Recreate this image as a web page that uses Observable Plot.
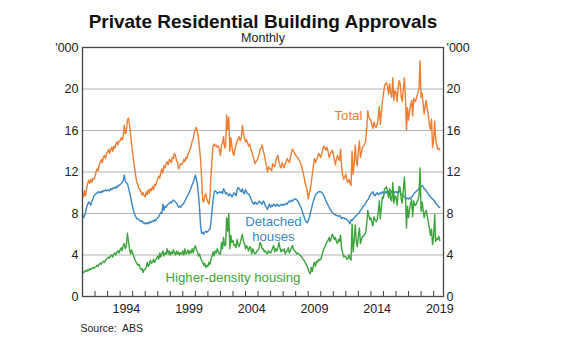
<!DOCTYPE html>
<html>
<head>
<meta charset="utf-8">
<style>
  html, body { margin: 0; padding: 0; background: #ffffff; }
  #chart svg { display: block; }
</style>
<script src="https://cdn.jsdelivr.net/npm/d3@7"></script>
<script src="https://cdn.jsdelivr.net/npm/@observablehq/plot@0.6"></script>
</head>
<body>
<div id="chart"></div>
<script>
// ---- Text ----
const title = "Private Residential Building Approvals";
const subtitle = "Monthly";
const sourceNote = "Source:  ABS";

// ---- Data: monthly, Jan 1991 to Jul 2019, '000 dwellings ----
const firstYear = 1991;
const total = [
  10.0, 9.6, 10.2, 9.7, 10.4, 10.9, 11.2, 10.9, 11.3, 11.0, 11.4, 11.3,
  11.6, 12.0, 12.3, 12.1, 12.7, 12.9, 13.2, 12.9, 13.4, 13.6, 13.3, 13.8,
  13.9, 14.2, 13.8, 14.1, 14.4, 14.0, 14.5, 14.3, 14.7, 14.9, 14.6, 15.0,
  15.0, 15.3, 15.1, 15.4, 16.5, 15.7, 15.9, 17.0, 17.2, 16.6, 15.6, 14.7,
  13.9, 13.0, 12.3, 11.6, 11.0, 10.8, 10.4, 10.3, 10.1, 9.8, 10.0, 9.7,
  9.6, 10.1, 9.8, 10.3, 10.0, 10.4, 10.2, 10.6, 10.3, 10.8, 10.7, 11.1,
  11.3, 11.6, 11.4, 12.0, 12.3, 11.9, 12.6, 12.4, 12.8, 13.0, 12.7, 13.2,
  13.1, 12.9, 13.4, 13.3, 13.8, 13.6, 13.1, 12.9, 12.3, 12.5, 12.8, 12.7,
  12.9, 13.2, 13.0, 13.4, 13.3, 13.7, 13.9, 14.2, 14.5, 15.0, 15.2, 15.8,
  16.1, 16.3, 15.8, 15.3, 14.3, 13.2, 11.4, 9.3, 9.1, 9.7, 9.9, 9.4,
  9.1, 8.9, 9.6, 11.6, 13.2, 14.5, 14.7, 14.5, 14.6, 14.4, 14.5, 14.2,
  13.6, 14.6, 14.8, 15.4, 14.3, 14.5, 17.5, 16.1, 17.3, 14.0, 15.3, 14.5,
  13.8, 13.6, 14.3, 14.6, 15.0, 15.2, 15.4, 15.0, 15.3, 16.5, 15.8, 15.3,
  14.9, 15.1, 14.8, 14.5, 14.7, 14.2, 14.0, 13.6, 13.2, 12.8, 13.0, 13.1,
  13.4, 13.7, 14.2, 14.3, 14.6, 14.0, 13.7, 13.1, 12.6, 12.0, 12.5, 12.3,
  12.3, 12.1, 12.8, 12.6, 12.5, 13.1, 13.4, 13.6, 13.0, 12.6, 12.4, 12.9,
  12.6, 12.4, 12.8, 13.0, 13.3, 13.1, 12.9, 13.4, 13.9, 14.2, 14.0, 13.8,
  13.6, 13.5, 13.4, 13.2, 13.0, 12.8, 12.4, 12.0, 11.5, 11.0, 10.6, 10.3,
  9.4, 9.9, 10.3, 11.0, 11.8, 12.6, 13.3, 12.9, 13.2, 13.4, 13.8, 13.6,
  13.4, 13.8, 14.2, 14.5, 14.3, 14.1, 14.4, 14.0, 13.4, 13.7, 13.9, 14.1,
  13.7, 13.2, 12.7, 13.2, 13.6, 13.3, 13.1, 14.2, 12.5, 11.7, 11.3, 11.5,
  11.8, 11.2, 11.0, 11.3, 10.9, 10.7, 14.0, 11.8, 12.8, 14.6, 13.1, 12.6,
  14.1, 15.0, 13.4, 13.9, 14.4, 14.5, 14.7, 15.0, 16.2, 17.9, 17.3, 17.1,
  17.0, 16.5, 16.2, 16.8, 16.4, 16.3, 16.6, 17.2, 18.3, 16.6, 17.8, 18.8,
  19.5, 20.3, 20.5, 20.6, 20.2, 19.5, 20.5, 19.6, 19.2, 21.1, 18.9, 19.8,
  19.7, 18.8, 20.0, 20.8, 20.5, 19.3, 18.8, 19.9, 21.1, 19.3, 16.0, 18.2,
  17.0, 17.9, 18.4, 18.9, 17.4, 19.1, 18.8, 18.9, 19.3, 19.6, 20.1, 22.7,
  19.2, 19.6, 18.6, 17.6, 18.4, 18.9, 18.0, 17.5, 16.5, 16.1, 17.1, 14.4,
  15.0, 16.9, 15.2, 14.6, 14.2, 14.3, 14.1
];
const detached = [
  7.9, 7.6, 7.8, 8.1, 8.6, 8.9, 9.1, 9.0, 8.8, 9.2, 9.4, 9.7,
  9.8, 9.9, 10.0, 10.1, 10.0, 10.1, 10.0, 10.2, 10.1, 10.2, 10.3, 10.2,
  10.2, 10.3, 10.2, 10.4, 10.3, 10.4, 10.5, 10.4, 10.6, 10.5, 10.7, 10.7,
  10.8, 10.9, 11.0, 11.2, 11.7, 11.1, 11.0, 10.9, 10.5, 10.1, 9.6, 9.1,
  8.6, 8.2, 7.9, 7.7, 7.5, 7.5, 7.4, 7.3, 7.2, 7.3, 7.1, 7.0,
  7.1, 7.0, 7.1, 7.0, 7.2, 7.1, 7.2, 7.3, 7.2, 7.4, 7.3, 7.5,
  7.6, 7.7, 7.9, 8.1, 8.0, 8.9, 8.3, 8.7, 8.6, 8.8, 8.9, 9.0,
  9.1, 9.0, 9.2, 9.3, 9.2, 9.1, 9.0, 8.8, 8.6, 8.7, 8.6, 8.8,
  8.9, 9.0, 9.2, 9.4, 9.6, 9.8, 10.0, 10.2, 10.5, 10.8, 11.0, 11.3,
  11.7, 11.3, 10.8, 9.8, 8.6, 6.8, 6.1, 6.2, 6.0, 6.2, 6.3, 6.2,
  6.3, 6.4, 6.5, 7.2, 8.3, 9.3, 10.0, 10.2, 10.1, 9.9, 10.0, 10.1,
  10.0, 10.1, 9.9, 10.4, 10.2, 9.9, 10.0, 9.8, 9.7, 9.9, 9.8, 9.6,
  9.8, 10.0, 9.9, 9.7, 10.3, 10.5, 10.4, 10.2, 10.1, 10.4, 10.0, 9.9,
  10.3, 10.1, 9.9, 9.9, 9.7, 9.5, 9.2, 9.0, 8.9, 9.1, 9.0, 8.9,
  9.0, 9.2, 9.1, 9.0, 8.9, 9.2, 9.1, 8.7, 8.6, 8.4, 8.7, 8.9,
  8.6, 8.8, 8.7, 8.9, 8.8, 8.7, 8.9, 8.8, 8.7, 8.8, 8.9, 8.8,
  8.9, 8.8, 8.9, 9.0, 8.9, 9.1, 9.2, 9.1, 9.3, 9.2, 9.3, 9.4,
  9.4, 9.3, 9.2, 9.0, 8.8, 8.6, 8.3, 8.0, 7.7, 7.4, 7.2, 7.1,
  7.3, 7.6, 8.0, 8.4, 8.8, 9.2, 9.5, 9.8, 9.9, 10.0, 10.1, 10.1,
  10.1, 10.0, 9.9, 9.7, 9.5, 9.2, 9.0, 8.8, 8.6, 8.4, 8.3, 8.1,
  8.0, 7.9, 7.9, 7.8, 7.8, 7.7, 7.8, 7.7, 7.5, 7.6, 7.6, 7.5,
  7.5, 7.4, 7.3, 7.2, 7.0, 7.4, 7.3, 7.5, 7.6, 7.7, 7.8, 7.9,
  8.0, 8.1, 8.3, 8.4, 8.6, 8.7, 8.8, 9.0, 9.2, 9.3, 9.5, 9.7,
  9.9, 10.0, 10.1, 9.8, 9.7, 9.9, 10.0, 9.8, 9.9, 10.0, 9.9, 10.1,
  10.0, 9.9, 10.1, 10.0, 10.2, 10.0, 10.1, 10.2, 10.0, 10.1, 9.9, 10.1,
  10.1, 10.0, 10.1, 10.2, 10.0, 9.9, 9.8, 9.7, 9.6, 9.5, 9.4, 9.5,
  9.4, 9.5, 9.4, 9.6, 9.7, 9.9, 10.0, 10.1, 10.2, 10.3, 10.4, 10.5,
  10.6, 10.7, 10.6, 10.4, 10.3, 10.2, 10.0, 9.9, 9.7, 9.6, 9.5, 9.4,
  9.3, 9.2, 9.0, 8.9, 8.8, 8.6, 8.6
];
const higherDensity = [
  2.4, 2.3, 2.4, 2.5, 2.4, 2.6, 2.5, 2.7, 2.6, 2.7, 2.8, 2.7,
  2.8, 2.9, 3.0, 2.9, 3.1, 3.2, 3.1, 3.3, 3.4, 3.3, 3.5, 3.6,
  3.7, 3.8, 3.7, 3.9, 4.0, 3.8, 4.1, 4.2, 4.0, 4.3, 4.4, 4.2,
  4.5, 4.7, 4.4, 4.9, 5.1, 4.6, 4.9, 6.1, 5.3, 4.6, 4.1, 4.5,
  4.2, 3.9, 3.6, 3.4, 3.2, 3.0, 3.1, 2.8, 2.6, 2.7, 2.3, 2.6,
  2.6, 2.8, 3.3, 2.9, 3.1, 3.5, 3.2, 3.3, 3.6, 3.3, 3.5, 3.7,
  3.9, 3.6, 4.2, 3.8, 4.1, 4.4, 3.9, 4.2, 4.1, 4.6, 4.1, 4.4,
  4.0, 4.3, 4.1, 4.5, 4.2, 4.0, 4.4, 4.1, 4.3, 4.0, 4.2, 4.1,
  4.4, 4.0, 4.6, 4.1, 4.2, 4.5, 4.1, 4.4, 4.2, 4.6, 4.2, 4.6,
  4.9, 4.5, 4.3, 3.9, 4.1, 3.7, 3.5, 3.3, 3.0, 3.2, 2.8, 3.0,
  2.9, 3.3, 3.1, 3.6, 3.9, 4.3, 3.9, 4.4, 4.2, 4.6, 4.3, 4.1,
  4.1, 5.2, 4.6, 5.7, 4.9, 5.0, 7.6, 6.3, 8.0, 4.6, 5.9, 5.2,
  5.4, 4.9, 5.0, 4.7, 5.5, 5.0, 4.8, 5.2, 5.6, 6.0, 5.3, 5.1,
  4.6, 4.9, 4.7, 4.4, 4.8, 4.7, 4.1, 4.6, 4.3, 4.1, 4.2, 4.4,
  4.5, 4.7, 5.2, 5.0, 4.6, 4.6, 4.3, 4.4, 4.2, 4.1, 4.4, 4.3,
  4.2, 4.4, 4.7, 4.9, 4.3, 4.6, 4.4, 4.7, 5.2, 4.7, 4.3, 4.5,
  4.4, 4.6, 4.1, 4.3, 4.4, 4.7, 4.2, 4.4, 4.7, 4.9, 4.5, 4.4,
  4.3, 4.1, 4.2, 4.1, 4.0, 3.9, 3.8, 3.6, 3.5, 3.3, 3.1, 2.9,
  2.6, 2.3, 2.2, 2.8, 2.4, 3.0, 3.3, 2.9, 3.4, 3.3, 3.6, 3.5,
  3.6, 3.9, 4.3, 4.6, 4.8, 5.0, 5.3, 5.4, 5.7, 5.3, 5.6, 6.0,
  5.8, 5.5, 5.7, 5.3, 5.1, 5.5, 5.3, 5.9, 4.6, 4.2, 3.8, 3.9,
  3.8, 3.6, 3.6, 4.0, 3.7, 3.5, 7.0, 4.3, 5.4, 6.9, 5.3, 4.8,
  5.9, 6.6, 5.1, 5.5, 5.8, 5.8, 6.0, 6.1, 7.0, 8.3, 7.8, 7.4,
  7.6, 7.1, 6.8, 7.7, 7.4, 7.2, 7.4, 8.1, 9.2, 7.5, 8.6, 9.6,
  9.5, 10.4, 10.4, 10.6, 10.0, 9.5, 10.4, 9.4, 9.2, 11.0, 9.0, 9.7,
  9.6, 8.8, 9.9, 10.6, 10.5, 9.4, 9.0, 10.2, 11.5, 9.8, 6.6, 8.7,
  7.6, 8.4, 9.0, 9.3, 7.7, 9.2, 8.8, 8.8, 9.1, 9.3, 9.7, 12.4,
  8.2, 9.1, 8.4, 7.6, 8.1, 8.3, 7.7, 7.2, 6.5, 5.9, 6.5, 5.0,
  5.8, 7.9, 5.3, 5.6, 5.5, 5.8, 5.4
];

// ---- Axis ticks ----
const yTicks = [0, 4, 8, 12, 16, 20, 24];
const yTickLabels = ["0", "4", "8", "12", "16", "20", "'000"];
const gridValues = [4, 8, 12, 16, 20];
const labelYears = [1994, 1999, 2004, 2009, 2014, 2019];
const tickYears = [1992, 1993, 1994, 1995, 1996, 1997, 1998, 1999, 2000, 2001,
  2002, 2003, 2004, 2005, 2006, 2007, 2008, 2009, 2010, 2011, 2012, 2013,
  2014, 2015, 2016, 2017, 2018, 2019];
const xDomainYears = [[1991, 0, 1], [2019, 9, 16]];

// ---- Series labels (annotation anchors: year, month, value) ----
const seriesLabels = [
  {key: "total", text: "Total", year: 2012, month: 2, day: 16, value: 17.45},
  {key: "detached", text: "Detached\nhouses", year: 2006, month: 2, day: 24, value: 6.5},
  {key: "higher", text: "Higher-density housing", year: 2003, month: 0, day: 1, value: 1.83}
];

const colors = {total: "#EE7E32", detached: "#3A87C9", higher: "#3BA53B"};
const textColor = "#222222";

// ---- Build table ----
const utc = (y, m, d = 1) => new Date(Date.UTC(y, m, d));
const rows = total.map((t, i) => ({
  date: utc(firstYear, i, 1),
  total: t,
  detached: detached[i],
  higher: higherDensity[i]
}));
const labelDates = labelYears.map(y => utc(y, 6, 1));
const tickDates = tickYears.map(y => utc(y, 0, 1));
const labelRows = seriesLabels.map(d => ({...d, date: utc(d.year, d.month, d.day)}));

const chart = Plot.plot({
  width: 580,
  height: 352,
  marginLeft: 82,
  marginRight: 137,
  marginTop: 47,
  marginBottom: 56,
  style: {fontFamily: "'Liberation Sans', Arial, Helvetica, sans-serif", color: textColor, background: "#ffffff"},
  x: {type: "utc", domain: xDomainYears.map(([y, m, d]) => utc(y, m, d))},
  y: {domain: [0, 24]},
  marks: [
    Plot.ruleY(gridValues, {stroke: "#b4b4b4", strokeWidth: 1.2}),
    Plot.line(rows, {x: "date", y: "total", stroke: colors.total, strokeWidth: 1.4}),
    Plot.line(rows, {x: "date", y: "detached", stroke: colors.detached, strokeWidth: 1.4}),
    Plot.line(rows, {x: "date", y: "higher", stroke: colors.higher, strokeWidth: 1.4}),
    Plot.text(labelRows, {
      x: "date", y: "value", text: "text",
      fill: d => colors[d.key],
      fontSize: 13.2, lineHeight: 1.14, textAnchor: "middle", lineAnchor: "middle"
    }),
    Plot.ruleX(tickDates, {x: d => d, y1: 0, y2: 0, insetBottom: 5, stroke: "#444", strokeWidth: 1}),
    Plot.frame({stroke: "#444", strokeWidth: 1.3}),
    Plot.axisX({
      ticks: labelDates, tickFormat: d => String(d.getUTCFullYear()),
      tickSize: 0, tickPadding: 8, fontSize: 12.5, label: null, fill: textColor
    }),
    Plot.axisY(yTicks, {
      anchor: "left", tickFormat: d => yTickLabels[yTicks.indexOf(d)],
      tickSize: 0, tickPadding: 4, fontSize: 12.5, label: null, fill: textColor
    }),
    Plot.axisY(yTicks, {
      anchor: "right", tickFormat: d => yTickLabels[yTicks.indexOf(d)],
      tickSize: 0, tickPadding: 3, fontSize: 12.5, label: null, fill: textColor
    }),
    Plot.text([title], {
      text: d => d, frameAnchor: "top", dy: -26, lineAnchor: "middle",
      fontSize: 19, fontWeight: "bold", fill: "#111"
    }),
    Plot.text([subtitle], {
      text: d => d, frameAnchor: "top", dy: -9.5, lineAnchor: "middle",
      fontSize: 12.5, fill: textColor
    }),
    Plot.text([sourceNote], {
      text: d => d, frameAnchor: "bottom-left", dx: -2, dy: 32.5, lineAnchor: "middle",
      textAnchor: "start", fontSize: 10.5, fill: textColor
    })
  ]
});
document.getElementById("chart").appendChild(chart);
</script>
</body>
</html>
